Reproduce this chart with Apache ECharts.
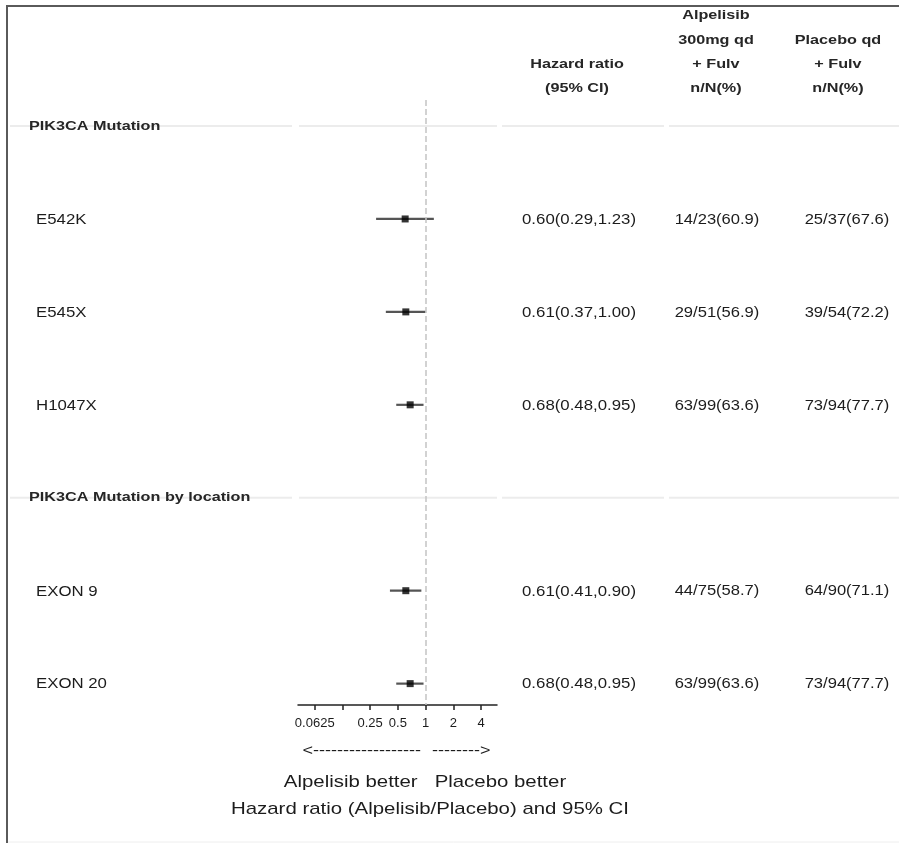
<!DOCTYPE html>
<html>
<head>
<meta charset="utf-8">
<script src="https://cdn.jsdelivr.net/npm/echarts@6/dist/echarts.min.js"></script>
<style>
  html, body { margin: 0; padding: 0; background: #fff; }
  #chart { width: 899px; height: 843px; }
</style>
</head>
<body>
<div id="chart"></div>
<script>
// Subgroup rows (top to bottom)
const rowLabels = ['PIK3CA Mutation', 'E542K', 'E545X', 'H1047X',
                   'PIK3CA Mutation by location', 'EXON 9', 'EXON 20'];
const rowIsHeader = [true, false, false, false, true, false, false];

// Hazard ratios with 95% CI
const hazardRatio = [null, 0.60, 0.61, 0.68, null, 0.61, 0.68];
const ciLow       = [null, 0.29, 0.37, 0.48, null, 0.41, 0.48];
const ciHigh      = [null, 1.23, 1.00, 0.95, null, 0.90, 0.95];

// Events / patients per arm
const alpelisibCounts = ['', '14/23(60.9)', '29/51(56.9)', '63/99(63.6)', '', '44/75(58.7)', '63/99(63.6)'];
const placeboCounts   = ['', '25/37(67.6)', '39/54(72.2)', '73/94(77.7)', '', '64/90(71.1)', '73/94(77.7)'];

// Log2 axis ticks
const tickValues = [0.0625, 0.125, 0.25, 0.5, 1, 2, 4];
const tickLabels = ['0.0625', '', '0.25', '0.5', '1', '2', '4'];

const FONT = '"Liberation Sans", Arial, sans-serif';
const TXT = '#1c1c1c';
const SX = 1.2; // horizontal stretch of the SAS-style lettering

function fmt(v) { return v.toFixed(2); }

function textEl(x, y, text, size, align, bold) {
  return {
    type: 'text', x: x, y: y, scaleX: SX,
    style: {
      text: text,
      font: (bold ? 'bold ' : '') + size + 'px ' + FONT,
      fill: bold ? '#262626' : TXT,
      align: align, verticalAlign: 'middle',
      textAlign: align, textVerticalAlign: 'middle'
    }
  };
}

const chart = echarts.init(document.getElementById('chart'), null, { renderer: 'canvas' });

const rowData = rowLabels.map((_, i) => [1, i]);
const pointData = [];
const ciData = [];
hazardRatio.forEach((v, i) => {
  if (v != null) {
    pointData.push([v, i]);
    ciData.push([ciLow[i], ciHigh[i], i]);
  }
});

const labelValues = tickValues.filter((_, k) => tickLabels[k] !== '');

const option = {
  animation: false,
  backgroundColor: '#fff',
  grid: { left: 298, top: 100, width: 199, height: 605, containLabel: false },
  xAxis: {
    type: 'log',
    logBase: 2,
    min: 0.0411,
    max: 5.97,
    position: 'bottom',
    splitLine: { show: false },
    axisLine: { show: true, onZero: false, lineStyle: { color: '#222', width: 1.5 } },
    axisTick: { show: true, length: 5, customValues: tickValues, lineStyle: { color: '#222', width: 1.5 } },
    axisLabel: {
      show: true,
      customValues: labelValues,
      margin: 12,
      fontSize: 13,
      fontFamily: FONT,
      color: TXT,
      formatter: function (v) {
        let best = 0;
        for (let k = 1; k < tickValues.length; k++) {
          if (Math.abs(Math.log2(tickValues[k]) - Math.log2(v)) <
              Math.abs(Math.log2(tickValues[best]) - Math.log2(v))) best = k;
        }
        return tickLabels[best];
      }
    }
  },
  yAxis: {
    type: 'value',
    inverse: true,
    min: -0.28,
    max: 6.23,
    show: false
  },
  graphic: [
    // frame
    { type: 'line', shape: { x1: 6, y1: 6, x2: 899, y2: 6 }, style: { stroke: '#5a5a5a', lineWidth: 2 } },
    { type: 'line', shape: { x1: 7, y1: 6, x2: 7, y2: 843 }, style: { stroke: '#5a5a5a', lineWidth: 2 } },
    { type: 'line', shape: { x1: 8, y1: 842, x2: 899, y2: 842 }, style: { stroke: '#eeeeee', lineWidth: 1 } },
    // column headers
    textEl(577, 64, 'Hazard ratio', 13.5, 'center', true),
    textEl(577, 88, '(95% CI)', 13.5, 'center', true),
    textEl(716, 15, 'Alpelisib', 13.5, 'center', true),
    textEl(716, 40, '300mg qd', 13.5, 'center', true),
    textEl(716, 64, '+ Fulv', 13.5, 'center', true),
    textEl(716, 88, 'n/N(%)', 13.5, 'center', true),
    textEl(838, 40, 'Placebo qd', 13.5, 'center', true),
    textEl(838, 64, '+ Fulv', 13.5, 'center', true),
    textEl(838, 88, 'n/N(%)', 13.5, 'center', true),
    // direction arrows and axis title
    textEl(421, 751, '<' + '-'.repeat(18), 15, 'right', false),
    textEl(432, 751, '-'.repeat(8) + '>', 15, 'left', false),
    textEl(425, 782, 'Alpelisib better   Placebo better', 17, 'center', false),
    textEl(430, 809, 'Hazard ratio (Alpelisib/Placebo) and 95% CI', 17, 'center', false)
  ],
  series: [
    {
      // faint separators across group header rows
      type: 'custom',
      z: 1,
      silent: true,
      data: rowData.filter((_, i) => rowIsHeader[i]),
      encode: { x: 0, y: 1 },
      renderItem: function (params, api) {
        const y = api.coord([1, api.value(1)])[1];
        const segs = [[10, 292], [299, 497], [502, 664], [669, 899]];
        return {
          type: 'group',
          children: segs.map(s => ({
            type: 'line',
            shape: { x1: s[0], y1: y, x2: s[1], y2: y },
            style: { stroke: '#ececec', lineWidth: 2 }
          }))
        };
      }
    },
    {
      // row labels and table columns
      type: 'custom',
      z: 5,
      silent: true,
      data: rowData,
      encode: { x: 0, y: 1 },
      renderItem: function (params, api) {
        const i = api.value(1);
        const y = api.coord([1, i])[1];
        const children = [];
        if (rowIsHeader[i]) {
          children.push(textEl(29, y, rowLabels[i], 13.5, 'left', true));
        } else {
          children.push(textEl(36, y + 1, rowLabels[i], 14, 'left', false));
          children.push(textEl(579, y + 1,
            fmt(hazardRatio[i]) + '(' + fmt(ciLow[i]) + ',' + fmt(ciHigh[i]) + ')', 14, 'center', false));
          children.push(textEl(717, y + 1, alpelisibCounts[i], 13.8, 'center', false));
          children.push(textEl(847, y + 1, placeboCounts[i], 13.8, 'center', false));
        }
        return { type: 'group', children: children };
      }
    },
    {
      // confidence intervals
      type: 'custom',
      z: 3,
      silent: true,
      data: ciData,
      encode: { x: [0, 1], y: 2 },
      renderItem: function (params, api) {
        const p1 = api.coord([api.value(0), api.value(2)]);
        const p2 = api.coord([api.value(1), api.value(2)]);
        return {
          type: 'line',
          shape: { x1: p1[0], y1: p1[1], x2: p2[0], y2: p2[1] },
          style: { stroke: '#555', lineWidth: 2.2 }
        };
      }
    },
    {
      // point estimates
      type: 'scatter',
      z: 4,
      silent: true,
      symbol: 'rect',
      symbolSize: 7,
      itemStyle: { color: '#000' },
      data: pointData,
      markLine: {
        silent: true,
        symbol: 'none',
        label: { show: false },
        lineStyle: { type: 'dashed', color: '#c4c4c4', width: 1.5 },
        data: [{ xAxis: 1 }]
      }
    }
  ]
};

chart.setOption(option);
</script>
</body>
</html>
